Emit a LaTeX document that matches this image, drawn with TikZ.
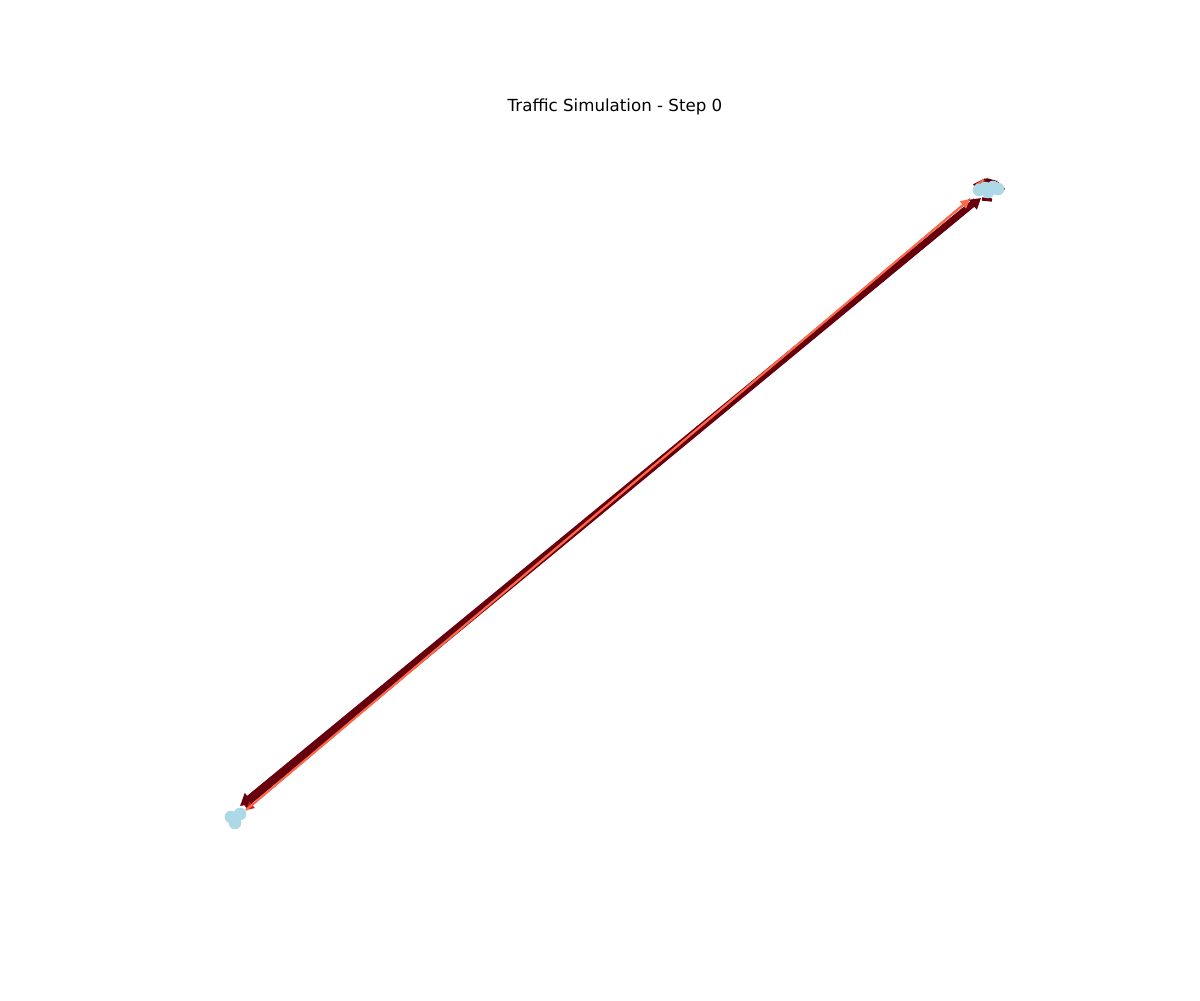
\documentclass[tikz,border=0pt]{standalone}
\usepackage{fontspec}
\setmainfont{DejaVu Sans}
\usetikzlibrary{arrows.meta}
\definecolor{dkred}{HTML}{67000D}
\definecolor{mdred}{HTML}{A50F15}
\definecolor{rdred}{HTML}{CB181D}
\definecolor{salmon}{HTML}{FB6A4A}
\definecolor{nodeblue}{HTML}{ADD8E6}
\tikzset{
  vtx/.style={circle,fill=nodeblue,draw=none,minimum size=9.5pt,inner sep=0pt},
  road/.style={line cap=butt},
}
\begin{document}
\begin{tikzpicture}[x=0.75pt,y=-0.75pt]
\useasboundingbox (0,0) rectangle (1200,1000);
\node[font=\fontsize{12.5}{15}\selectfont] (title) at (615,107) {Traffic Simulation - Step 0};
% anchor coordinates of the two clusters
\coordinate (b1) at (240,806);
\coordinate (b2) at (245,806);
\coordinate (b3) at (246,810);
\coordinate (t1) at (976,201);
\coordinate (t2) at (981,198);
\coordinate (t3) at (970,199);
% edges
\draw[road,dkred,line width=5pt,-{Triangle[length=9pt,width=10pt]}] (t1) -- (b1);
\draw[road,dkred,line width=3.5pt,-{Triangle[length=8pt,width=9pt]}] (b2) -- (t2);
\draw[road,rdred,line width=1.2pt,-{Triangle[length=6pt,width=6pt]}] (t3) -- (b3);
\draw[road,salmon,line width=1.6pt,-{Triangle[length=7pt,width=7pt]}] (b3) -- (t3);
% nodes bottom
\node[vtx] (n1) at (231,817) {};
\node[vtx] (n2) at (240,814) {};
\node[vtx] (n3) at (235,823) {};
% top cluster small edges
\coordinate (c1) at (986,180);
\coordinate (c2) at (997,183);
\coordinate (c3) at (992,200);
\coordinate (c4) at (974,186);
\draw[dkred,line width=3pt] (c4) -- (c1);
\draw[dkred,line width=3pt] (c1) -- (c2);
\draw[mdred,line width=2.5pt] (c2) -- (1004,190);
\draw[dkred,line width=2.5pt] (982,199) -- (c3);
\draw[salmon,line width=1.5pt] (976,185) -- (984,180);
% nodes top
\node[vtx] (m1) at (979,190) {};
\node[vtx] (m2) at (985,188) {};
\node[vtx] (m3) at (991,189) {};
\node[vtx] (m4) at (998,189) {};
\node[vtx] (m5) at (988,192) {};
\node[vtx] (m6) at (993,187) {};
\end{tikzpicture}
\end{document}
